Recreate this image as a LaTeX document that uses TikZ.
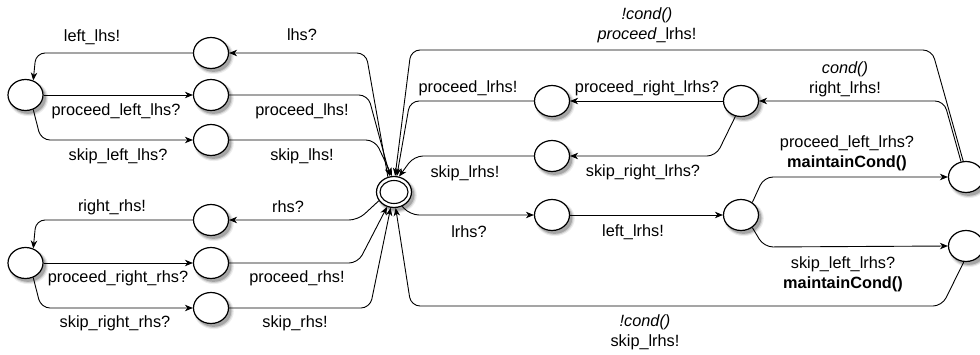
\documentclass[tikz,border=0pt]{standalone}
\usepackage{fontspec}
\setmainfont{Liberation Sans}
\usetikzlibrary{shapes.geometric,arrows.meta,shadows}
\tikzset{
  soft/.style={
    drop shadow={shadow xshift=2.5pt,shadow yshift=-3pt,shadow scale=1.14,opacity=.07,fill=black},
    drop shadow={shadow xshift=2.5pt,shadow yshift=-3pt,shadow scale=1.08,opacity=.12,fill=black},
    drop shadow={shadow xshift=2.5pt,shadow yshift=-3pt,shadow scale=1.02,opacity=.2,fill=black}},
  st/.style={ellipse,draw,line width=1.2pt,fill=white,minimum width=35pt,minimum height=31pt,inner sep=0pt,soft},
  stin/.style={ellipse,draw,line width=1.1pt,minimum width=28pt,minimum height=23pt,inner sep=0pt},
  conn/.style={draw,line width=0.9pt,rounded corners=9pt,-{Stealth[length=8pt,width=6.5pt,inset=2.5pt]}},
  lbl/.style={font=\fontsize{16.3}{20}\selectfont,inner sep=0pt,align=center},
}
\begin{document}
\begin{tikzpicture}[x=1pt,y=-1pt]
\useasboundingbox (0,0) rectangle (980,354);
% states
\node[st] (G) at (394,192) {};
\node[stin] (Gin) at (394,192) {};
\node[st] (L1) at (25.5,95) {};
\node[st] (A1) at (211,53) {};
\node[st] (A2) at (211,95) {};
\node[st] (A3) at (211,140) {};
\node[st] (L2) at (25.5,263) {};
\node[st] (B1) at (211,220) {};
\node[st] (B2) at (211,263) {};
\node[st] (B3) at (211,308) {};
\node[st] (C1) at (552,101) {};
\node[st] (C2) at (741,101) {};
\node[st] (E1) at (552,156) {};
\node[st] (D1) at (552,215) {};
\node[st] (D2) at (741,215) {};
\node[st] (F1) at (966,177) {};
\node[st] (F2) at (966,246) {};
% left upper group
\draw[conn] (G.112) -- (366,53) -- (A1.east);
\draw[conn] (A2.east) -- (368,95) -- (G.104);
\draw[conn] (A3.east) -- (375,140) -- (G.97);
\draw[conn] (A1.west) -- (36,53) -- (L1.62);
\draw[conn] (L1.east) -- (A2.west);
\draw[conn] (L1.298) -- (41,140) -- (A3.west);
% left lower group
\draw[conn] (G.210) -- (358,220) -- (B1.east);
\draw[conn] (B2.east) -- (358,263) -- (G.245);
\draw[conn] (B3.east) -- (370,308) -- (G.258);
\draw[conn] (B1.west) -- (36,220) -- (L2.62);
\draw[conn] (L2.east) -- (B2.west);
\draw[conn] (L2.298) -- (41,308) -- (B3.west);
% right group
\draw[conn] (G.300) -- (410,215) -- (D1.west);
\draw[conn] (D1.east) -- (D2.west);
\draw[conn] (D2.48) -- (764,177) -- (F1.west);
\draw[conn] (D2.312) -- (764,247) -- (F2.west);
\draw[conn] (F2.262) -- (942,306) -- (411,306) -- (G.276);
\draw[conn] (F1.100) -- (932,50) -- (411,50) -- (G.86);
\draw[conn] (F1.108) -- (944,101) -- (C2.east);
\draw[conn] (C2.west) -- (C1.east);
\draw[conn] (C1.west) -- (410,101) -- (G.80);
\draw[conn] (C2.250) -- (716,156) -- (E1.east);
\draw[conn] (E1.west) -- (414,156) -- (G.72);
% labels left
\node[lbl] (t1) at (92,37) {left\_lhs!};
\node[lbl] (t2) at (302,35) {lhs?};
\node[lbl] (t3) at (116,111) {proceed\_left\_lhs?};
\node[lbl] (t4) at (302,111) {proceed\_lhs!};
\node[lbl] (t5) at (118,156) {skip\_left\_lhs?};
\node[lbl] (t6) at (302,156) {skip\_lhs!};
\node[lbl] (t7) at (112,207) {right\_rhs!};
\node[lbl] (t8) at (288,207) {rhs?};
\node[lbl] (t9) at (118,278) {proceed\_right\_rhs?};
\node[lbl] (t10) at (297,278) {proceed\_rhs!};
\node[lbl] (t11) at (115,323) {skip\_right\_rhs?};
\node[lbl] (t12) at (295,323) {skip\_rhs!};
% labels right
\node[lbl] (r1) at (647,25) {\itshape !cond()\\{\itshape proceed}\_lrhs!};
\node[lbl] (r2) at (468,88) {proceed\_lrhs!};
\node[lbl] (r3) at (647,88) {proceed\_right\_lrhs?};
\node[lbl] (r4) at (845,79.5) {\itshape cond()\\right\_lrhs!};
\node[lbl] (r5) at (465,173) {skip\_lrhs!};
\node[lbl] (r6) at (643,172) {skip\_right\_lrhs?};
\node[lbl] (r7) at (847,153) {proceed\_left\_lrhs?\\\bfseries maintainCond()};
\node[lbl] (r8) at (469,232) {lrhs?};
\node[lbl] (r9) at (633,232) {left\_lrhs!};
\node[lbl] (r10) at (843,274) {skip\_left\_lrhs?\\\bfseries maintainCond()};
\node[lbl] (r11) at (645,332) {\itshape !cond()\\skip\_lrhs!};
\end{tikzpicture}
\end{document}
